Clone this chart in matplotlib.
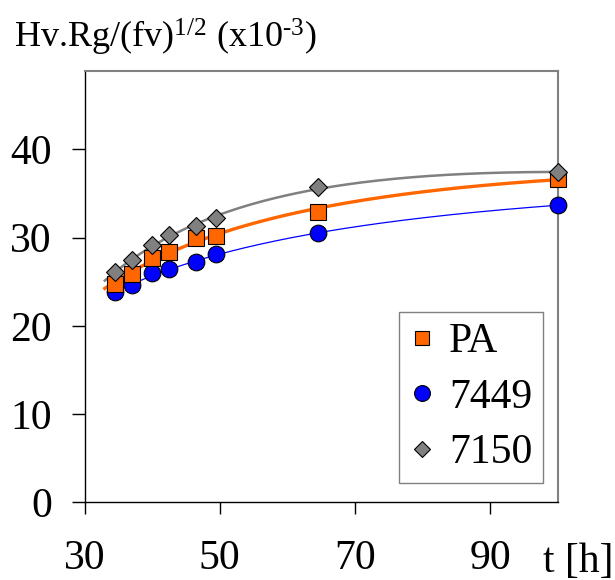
import numpy as np
import matplotlib
matplotlib.use('Agg')
import matplotlib.pyplot as plt

plt.rcParams['font.family'] = ['Liberation Serif', 'DejaVu Serif']
plt.rcParams['mathtext.fontset'] = 'custom'
plt.rcParams['mathtext.rm'] = 'Liberation Serif'
plt.rcParams['mathtext.it'] = 'Liberation Serif:italic'

# data
t_pa = [34.5, 37, 40, 42.5, 46.5, 49.5, 64.5, 100]
pa = [24.8, 25.9, 27.7, 28.4, 30.0, 30.2, 32.9, 36.7]

t_7449 = [34.5, 37, 40, 42.5, 46.5, 49.5, 64.5, 100]
a7449 = [23.8, 24.6, 26.0, 26.4, 27.2, 28.1, 30.5, 33.7]

t_7150 = [34.5, 37, 40, 42.5, 46.5, 49.5, 64.5, 100]
a7150 = [26.1, 27.5, 29.2, 30.3, 31.3, 32.2, 35.8, 37.4]

x_ticks = [30, 50, 70, 90]
y_ticks = [0, 10, 20, 30, 40]

fig = plt.figure(figsize=(6.15, 5.8), dpi=100)
ax = fig.add_axes([0.1374, 0.134, 0.770, 0.7436])


def trend(t, y, t0, t1):
    # log-quadratic trend line through the points
    c = np.polyfit(np.log(t), y, 2)
    tt = np.linspace(t0, t1, 200)
    return tt, np.polyval(c, np.log(tt))


tt, yy = trend(t_7150, a7150, 33, 100)
ax.plot(tt, yy, color='#808080', lw=1.8, zorder=2)
tt, yy = trend(t_pa, pa, 33, 100)
ax.plot(tt, yy, color='#FF6600', lw=2.4, zorder=2)
tt, yy = trend(t_7449, a7449, 35, 100)
ax.plot(tt, yy, color='#0000FF', lw=0.9, zorder=2)

ax.plot(t_7449, a7449, 'o', ms=12, mfc='#0000FF', mec='black', mew=0.8,
        label='7449', zorder=3, clip_on=False)
ax.plot(t_pa, pa, 's', ms=11, mfc='#FF6600', mec='black', mew=0.8,
        label='PA', zorder=4, clip_on=False)
ax.plot(t_7150, a7150, 'D', ms=9, mfc='#808080', mec='black', mew=0.8,
        label='7150', zorder=5, clip_on=False)

ax.set_xlim(30, 100)
ax.set_ylim(0, 48.9)
ax.set_xticks(x_ticks)
ax.set_yticks(y_ticks)
ax.tick_params(axis='both', labelsize=30, direction='out', width=1, color='black')
ax.tick_params(axis='x', length=8.6, pad=18.5)
ax.tick_params(axis='y', length=9.4, pad=14)

for s in ['left', 'bottom']:
    ax.spines[s].set_color('black')
    ax.spines[s].set_linewidth(1.0)
for s in ['top', 'right']:
    ax.spines[s].set_color('#808080')
    ax.spines[s].set_linewidth(1.5)

handles, labels = ax.get_legend_handles_labels()
order = [1, 0, 2]
leg = ax.legend([handles[i] for i in order], [labels[i] for i in order],
                loc='lower right', bbox_to_anchor=(0.968, 0.045),
                borderaxespad=0, fontsize=30, fancybox=False,
                edgecolor='#808080', framealpha=1, handlelength=0.62,
                handletextpad=0.34, labelspacing=0.41, borderpad=0.25,
                markerscale=0.95)
leg.get_frame().set_linewidth(1.0)

fig.text(0.023, 0.918, 'Hv.Rg/(fv)$^{\\mathrm{1/2}}$ (x10$^{\\mathrm{\u20103}}$)',
         fontsize=26, va='baseline', ha='left')
fig.text(0.883, 0.014, 't [h]', fontsize=30, va='baseline', ha='left')

fig.savefig('out.png', dpi=100)
